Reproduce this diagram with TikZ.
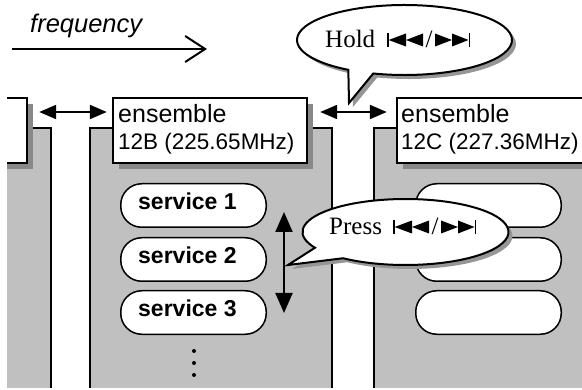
\documentclass[tikz,border=0pt]{standalone}
\usepackage{fontspec}
\newfontfamily\sansf{Liberation Sans}
\newfontfamily\seriff{Liberation Serif}
\usetikzlibrary{arrows.meta,calc,shadows}
\definecolor{colgray}{RGB}{192,192,192}
\definecolor{boxshadow}{RGB}{136,136,136}
\definecolor{balshadow}{RGB}{150,150,150}
\tikzset{
  skipsym/.pic={
    \fill (0,1) rectangle (1.6,15);
    \fill (1.6,8) -- (19,14.5) -- (19,1.5) -- cycle;
    \fill (19,8) -- (36,14.5) -- (36,1.5) -- cycle;
    \node[anchor=base, inner sep=0, font=\seriff\fontsize{25}{30}\selectfont] (sl) at (42,0) {/};
    \fill (48,14.5) -- (48,1.5) -- (65,8) -- cycle;
    \fill (65,14.5) -- (65,1.5) -- (81.5,8) -- cycle;
    \fill (81.5,1) rectangle (83,15);
  }
}
\begin{document}
\begin{tikzpicture}[x=1pt,y=1pt,
  colline/.style={line width=1.3pt},
  ensbox/.style={draw, line width=2.4pt, fill=white, rectangle, inner sep=0,
    minimum height=65pt,
    drop shadow={shadow xshift=6pt, shadow yshift=-6pt, fill=boxshadow, opacity=1}},
  pill/.style={draw, line width=1.5pt, fill=white, rounded corners=21pt,
    minimum width=145.5pt, minimum height=43.5pt, inner sep=0},
  enstA/.style={font=\sansf\fontsize{25}{30}\selectfont, inner sep=0, anchor=base west},
  enstB/.style={font=\sansf\fontsize{22.5}{27}\selectfont, inner sep=0, anchor=base west},
  svct/.style={font=\sansf\bfseries\fontsize{23}{28}\selectfont, inner sep=0, anchor=base west},
  balt/.style={font=\seriff\fontsize{25}{30}\selectfont, inner sep=0, anchor=base west},
  freqt/.style={font=\sansf\itshape\fontsize{25.5}{30}\selectfont, inner sep=0, anchor=base west},
  harrow/.style={{Triangle[length=17pt,width=14pt]}-{Triangle[length=17pt,width=14pt]}, line width=2pt},
  varrow/.style={{Triangle[length=20pt,width=17pt]}-{Triangle[length=20pt,width=17pt]}, line width=2pt},
  balloon/.style={draw, fill=white, line width=2pt, line join=miter,
    drop shadow={shadow xshift=4pt, shadow yshift=-4pt, fill=balshadow, opacity=1}}
]
\useasboundingbox (0,0) rectangle (582,389);
\begin{scope}
\clip (7,0) rectangle (582,389);
% columns
\fill[colgray] (-60,1) rectangle (51,261);
\draw[colline] (-60,261) -- (51,261) -- (51,1);
\fill[colgray] (90,1) rectangle (332,261);
\draw[colline] (90,1) -- (90,261) -- (332,261) -- (332,1);
\fill[colgray] (374,1) rectangle (660,261);
\draw[colline] (374,1) -- (374,261) -- (660,261);
% ensemble boxes
\node[ensbox, minimum width=87pt] (ens1) at (-16.5,258.5) {};
\node[ensbox, minimum width=194pt] (ens2) at (210,258.5) {};
\node[ensbox, minimum width=263pt] (ens3) at (528.5,258.5) {};
\node[enstA] (ens2a) at (118,266) {ensemble};
\node[enstB] (ens2b) at (118,239) {12B (225.65MHz)};
\node[enstA] (ens3a) at (401,266) {ensemble};
\node[enstB] (ens3b) at (401,239) {12C (227.36MHz)};
% services
\node[pill] (s1) at (193.5,183.5) {};
\node[pill] (s2) at (193.5,129.5) {};
\node[pill] (s3) at (193.5,76.5) {};
\node[svct] (s1t) at (138,179) {service 1};
\node[svct] (s2t) at (138,125) {service 2};
\node[svct] (s3t) at (138,72) {service 3};
\fill (194,38) circle (2);
\fill (194,26) circle (2);
\fill (194,14) circle (2);
\node[pill] (c1) at (488.5,183.5) {};
\node[pill] (c2) at (488.5,129.5) {};
\node[pill] (c3) at (488.5,76.5) {};
% arrows
\draw[harrow] ([xshift=11pt,yshift=18.5pt]ens1.east) -- ([xshift=-5pt,yshift=18.5pt]ens2.west);
\draw[harrow] ([xshift=12pt,yshift=18.5pt]ens2.east) -- ([xshift=-9pt,yshift=18.5pt]ens3.west);
\coordinate (vtop) at (284,177);
\coordinate (vbot) at (284,76);
\draw[varrow] (vtop) -- (vbot);
% frequency
\coordinate (fL) at (12,340);
\coordinate (fR) at (207,340);
\draw[line width=2pt, -{Straight Barb[length=20pt,width=26pt]}] (fL) -- (fR);
\node[freqt] (freq) at (30,356) {frequency};
% Hold balloon
\coordinate (holdtip) at (349,286);
\draw[balloon] (holdtip) -- ($(404.5,349)+(253.1:107.5 and 35)$)
  arc[start angle=253.1, end angle=598.5, x radius=107.5, y radius=35] -- cycle;
\node[balt] (holdt) at (325,341) {Hold};
\pic (holdsym) at (387,341) {skipsym};
% Press balloon
\coordinate (presstip) at (288,124);
\draw[balloon] (presstip) -- ($(405.5,157)+(232.7:103 and 33)$)
  arc[start angle=232.7, end angle=568.5, x radius=103, y radius=33] -- cycle;
\node[balt] (presst) at (329,154) {Press};
\pic (presssym) at (393,154) {skipsym};
\end{scope}
\end{tikzpicture}
\end{document}
